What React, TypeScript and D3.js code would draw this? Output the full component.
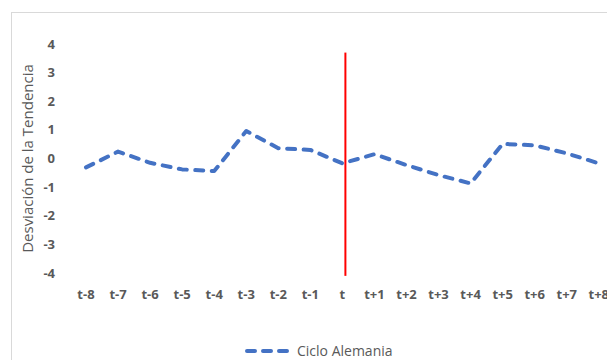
import React from "react";
import * as d3 from "d3";

const categories = ["t-8","t-7","t-6","t-5","t-4","t-3","t-2","t-1","t","t+1","t+2","t+3","t+4","t+5","t+6","t+7","t+8"];
const cicloAlemania = [-0.31, 0.24, -0.15, -0.38, -0.44, 0.96, 0.36, 0.3, -0.17, 0.15, -0.23, -0.58, -0.87, 0.51, 0.46, 0.18, -0.17];
const yTicks = [4, 3, 2, 1, 0, -1, -2, -3, -4];
const markerCategory = "t";
const markerRange = [3.7, -4.1];
const seriesName = "Ciclo Alemania";
const yTitle = "Desviación de la Tendencia";

export default function App() {
  const W = 607, H = 360;
  const x = d3.scalePoint<string>().domain(categories).range([86, 86 + 16 * 32.05]);
  const y = d3.scaleLinear().domain([-4, 4]).range([273, 44]);
  const line = d3.line<number>().x((_, i) => x(categories[i])!).y(d => y(d));
  const font = "'Open Sans', 'Noto Sans', sans-serif";
  const grey = "#595959";
  const mx = x(markerCategory)! + 3;
  return (
    <svg width={W} height={H} style={{ position: "absolute", left: 0, top: 0, background: "#fff" }} fontFamily={font}>
      <rect x={11.5} y={12.5} width={W} height={H} fill="none" stroke="#d9d9d9" strokeWidth={1} />
      {yTicks.map(t => (
        <text key={t} x={55} y={y(t)} dy="0.35em" textAnchor="end" fontSize={13} fontWeight="bold" fill={grey}>{t}</text>
      ))}
      <text transform={`translate(28,${(y(4) + y(-4)) / 2}) rotate(-90)`} textAnchor="middle" dy="0.35em" fontSize={15} fill={grey}>{yTitle}</text>
      {categories.map(c => (
        <text key={c} x={x(c)} y={294} dy="0.35em" textAnchor="middle" fontSize={13} fontWeight="bold" fill={grey}>{c}</text>
      ))}
      <line x1={mx} x2={mx} y1={y(markerRange[0])} y2={y(markerRange[1])} stroke="#ff0000" strokeWidth={2} />
      <path d={line(cicloAlemania)!} fill="none" stroke="#4472c4" strokeWidth={4} strokeDasharray="8,8.5" strokeLinecap="round" strokeLinejoin="round" />
      <line x1={247} x2={291} y1={351} y2={351} stroke="#4472c4" strokeWidth={4} strokeDasharray="8,8" strokeLinecap="round" />
      <text x={297} y={351} dy="0.35em" fontSize={14} fill={grey}>{seriesName}</text>
    </svg>
  );
}
